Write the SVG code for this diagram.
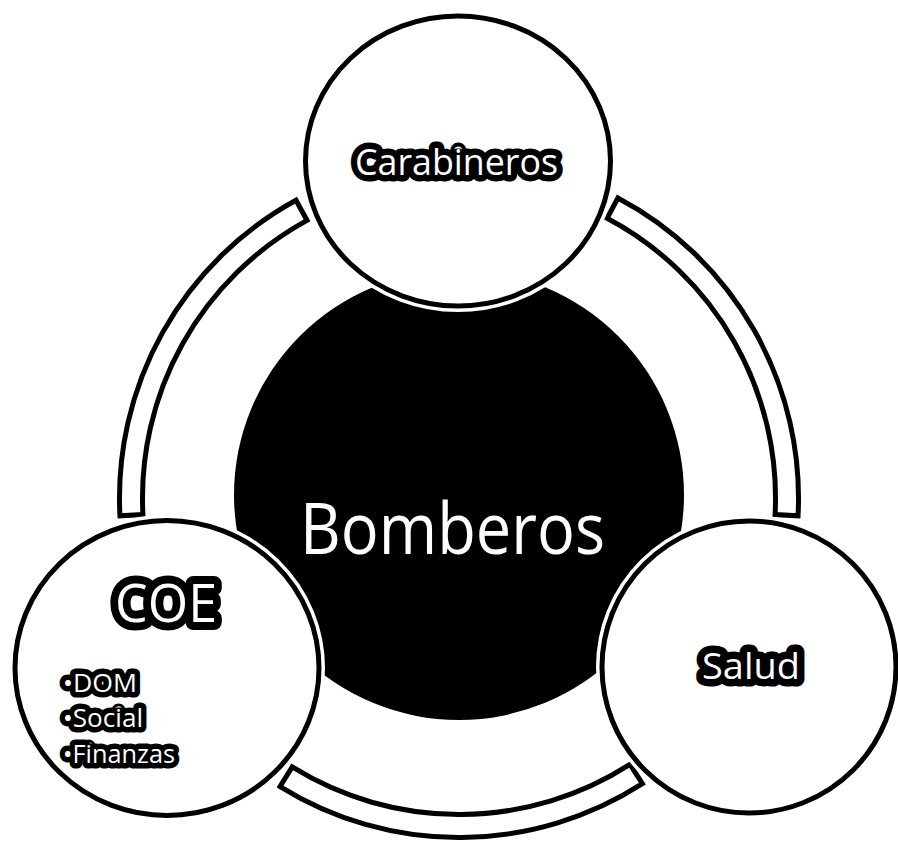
<svg xmlns="http://www.w3.org/2000/svg" width="898" height="841" viewBox="0 0 898 841">
<style>
.band{fill:#fff;stroke:#000;stroke-width:5;stroke-linejoin:miter}
.halo{fill:none;stroke:#fff;stroke-width:12}
.sat{fill:#fff;stroke:#000;stroke-width:5}
.lbl{font-family:"Open Sans","Noto Sans",sans-serif;fill:#fff;stroke:#000;stroke-linejoin:round;paint-order:stroke fill}
</style>
<rect width="898" height="841" fill="#fff"/>
<g id="node-bomberos">
<circle cx="459" cy="495" r="225" fill="#000"/>
<text class="lbl" x="452.5" y="554" font-size="72" text-anchor="middle" stroke-width="0" textLength="305" lengthAdjust="spacingAndGlyphs">Bomberos</text>
</g>
<g id="connectors">
<path class="band" d="M 119.97 515.77 A 339.5 339.5 0 0 1 295.97 200.21 L 307.01 220.38 A 316.5 316.5 0 0 0 142.93 514.57 Z"/>
<path class="band" d="M 617.90 197.98 A 339.5 339.5 0 0 1 798.03 515.77 L 775.07 514.57 A 316.5 316.5 0 0 0 607.13 218.31 Z"/>
<path class="band" d="M 642.41 783.69 A 339.5 339.5 0 0 1 280.10 786.54 L 292.22 766.99 A 316.5 316.5 0 0 0 629.99 764.34 Z"/>
</g>
<g id="node-carabineros">
<ellipse class="halo" cx="458" cy="161" rx="152.5" ry="145"/>
<ellipse class="sat" cx="458" cy="161" rx="152.5" ry="145"/>
<text class="lbl" x="456.5" y="175" font-size="37" text-anchor="middle" stroke-width="13" textLength="203" lengthAdjust="spacingAndGlyphs">Carabineros</text>
</g>
<g id="node-coe">
<ellipse class="halo" cx="167" cy="668" rx="152" ry="147.5"/>
<ellipse class="sat" cx="167" cy="668" rx="152" ry="147.5"/>
<text class="lbl" x="166" y="622" font-size="53" text-anchor="middle" stroke-width="16" textLength="102" lengthAdjust="spacingAndGlyphs">COE</text>
<text class="lbl" x="63" y="692" font-size="26" stroke-width="11" textLength="74" lengthAdjust="spacingAndGlyphs">•DOM</text>
<text class="lbl" x="63" y="727" font-size="26" stroke-width="11" textLength="80" lengthAdjust="spacingAndGlyphs">•Social</text>
<text class="lbl" x="63" y="763" font-size="26" stroke-width="11" textLength="112" lengthAdjust="spacingAndGlyphs">•Finanzas</text>
</g>
<g id="node-salud">
<ellipse class="halo" cx="749" cy="667" rx="147" ry="146"/>
<ellipse class="sat" cx="749" cy="667" rx="147" ry="146"/>
<text class="lbl" x="751" y="679" font-size="37" text-anchor="middle" stroke-width="15" textLength="98" lengthAdjust="spacingAndGlyphs">Salud</text>
</g>
</svg>
